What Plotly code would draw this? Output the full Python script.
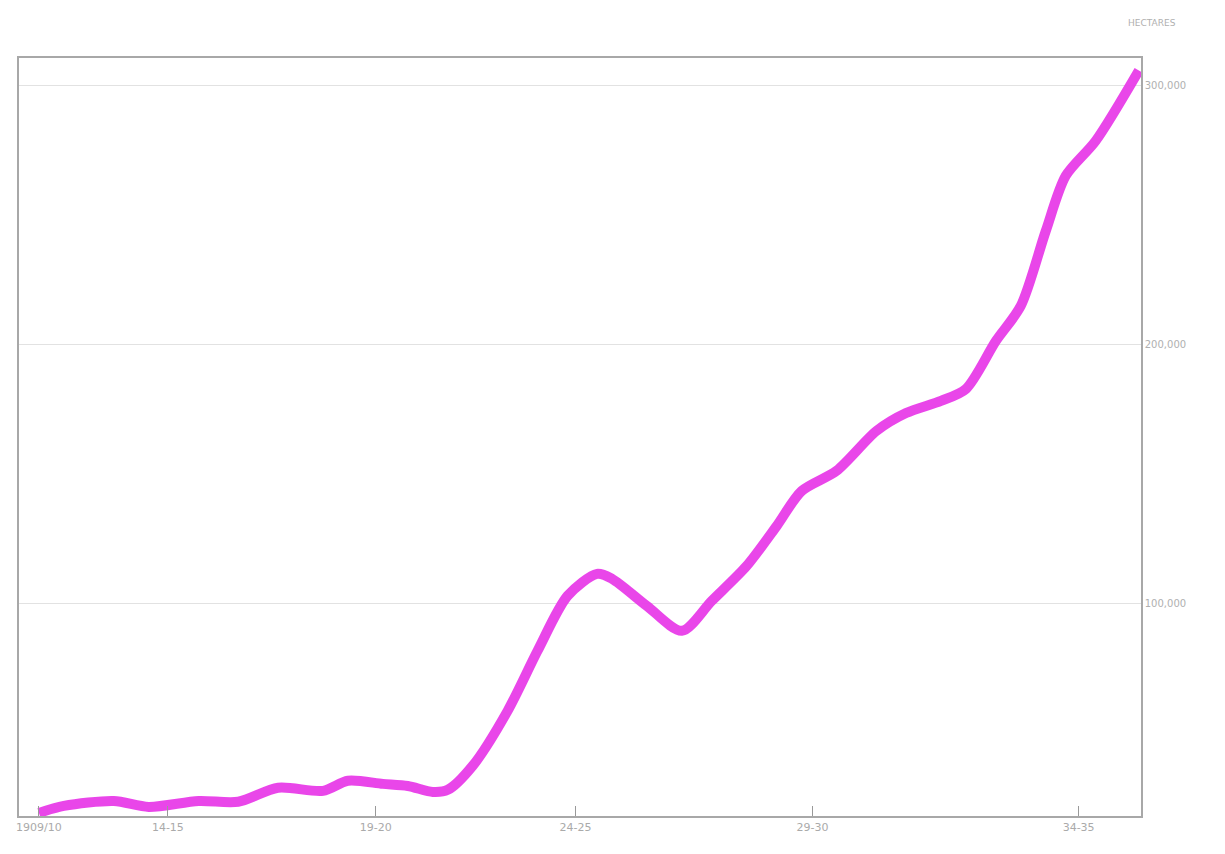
import plotly.graph_objects as go

# Data (x in years, y in hectares)
years = [1909.5, 1910.1, 1911.3, 1912.14, 1913.34, 1914.29, 1915.25, 1916.33, 1916.93,
         1917.77, 1918.37, 1918.97, 1919.33, 1919.93, 1920.77, 1921.49, 1922.21, 1922.92,
         1923.28, 1924.12, 1924.96, 1925.68, 1926.52, 1927.24, 1927.84, 1928.68, 1929.64,
         1930.35, 1931.19, 1931.79, 1932.51, 1933.11, 1933.71, 1934.19, 1934.91, 1935.95]
hectares = [19300, 22000, 23900, 21600, 23900, 23600, 29000, 27800, 31700,
            30500, 29700, 27400, 28200, 37500, 58700, 81900, 103100, 111600,
            109700, 99200, 89600, 101200, 114700, 130100, 143600, 151400, 166800,
            173700, 178400, 183000, 201500, 215100, 244000, 265300, 278800, 306000]

x_tick_vals = [1909.5, 1912.6, 1917.6, 1922.4, 1928.1, 1934.5]
x_tick_text = ["1909/10", "14-15", "19-20", "24-25", "29-30", "34-35"]
y_tick_vals = [100000, 200000, 300000]
y_tick_text = ["100,000", "200,000", "300,000"]

fig = go.Figure()
fig.add_trace(go.Scatter(
    x=years, y=hectares, mode="lines",
    line=dict(color="rgba(232,60,232,0.95)", width=10, shape="spline", smoothing=0.8),
    showlegend=False, hoverinfo="x+y"))

fig.update_layout(
    width=1218, height=847,
    margin=dict(l=8, r=85, t=50, b=39),
    paper_bgcolor="white", plot_bgcolor="white",
    font=dict(family="DejaVu Sans", color="#aaaaaa", size=10),
    annotations=[dict(text="HECTARES", x=1.0, xref="paper", xanchor="left", xshift=-15,
                      y=1.0, yref="paper", yanchor="bottom", yshift=28,
                      showarrow=False, font=dict(size=9, color="#b0b0b0"))],
)
fig.update_xaxes(range=[1909.02, 1936.0], tickvals=x_tick_vals, ticktext=x_tick_text,
                 showgrid=False, zeroline=False, showline=True, linecolor="#a8a8a8",
                 linewidth=1.5, mirror=True, ticks="inside", ticklen=10,
                 tickcolor="#999999", tickfont=dict(size=11, color="#aaaaaa"))
fig.update_yaxes(range=[18100, 310800], side="right", tickvals=y_tick_vals,
                 ticktext=y_tick_text, showgrid=True, gridcolor="#e2e2e2", gridwidth=1,
                 zeroline=False, showline=True, linecolor="#a8a8a8", linewidth=1.5,
                 mirror=True, ticks="", tickfont=dict(size=10, color="#b0b0b0"))

fig.write_html("out.html")
